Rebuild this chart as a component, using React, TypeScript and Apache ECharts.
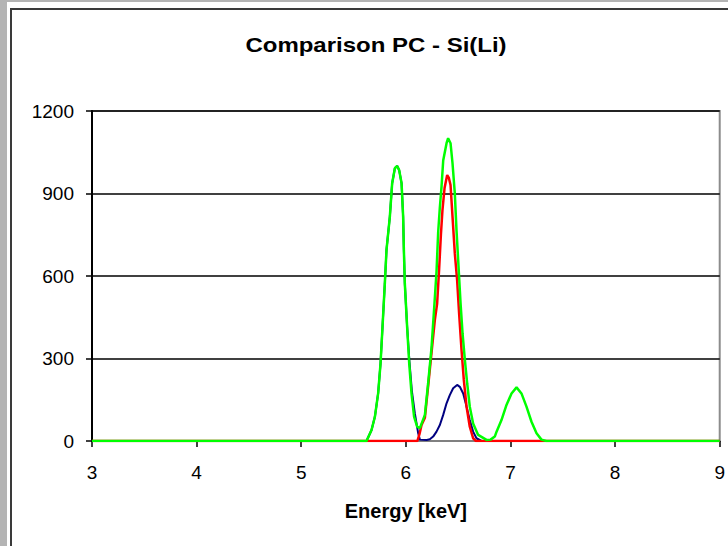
import React, { useEffect, useRef } from "react";
import * as echarts from "echarts";

const chartTitle = "Comparison PC - Si(Li)";
const xAxisName = "Energy [keV]";
const xTicks = { min: 3, max: 9, interval: 1 };
const yTicks = { min: 0, max: 1200, interval: 300 };

// Blue series (energy keV, counts)
const blueE = [3, 5.624, 5.672, 5.704, 5.735, 5.758, 5.777, 5.799, 5.815, 5.847, 5.869, 5.895, 5.917, 5.936, 5.959, 5.974, 5.981, 5.99, 6.012, 6.034, 6.058, 6.086, 6.118, 6.134, 6.2, 6.229, 6.261, 6.293, 6.325, 6.357, 6.389, 6.42, 6.452, 6.49, 6.516, 6.548, 6.58, 6.611, 6.643, 6.675, 6.723, 9];
const blueV = [0, 0, 40, 88, 173, 282, 416, 573, 695, 816, 937, 992, 1000, 985, 937, 816, 695, 573, 416, 290, 180, 100, 28, 5, 4, 6, 16, 34, 58, 95, 137, 167, 192, 204, 197, 173, 125, 76, 34, 10, 0, 0];

// Red series
const redE = [3, 6.11, 6.13, 6.15, 6.182, 6.213, 6.245, 6.277, 6.299, 6.318, 6.335, 6.35, 6.37, 6.395, 6.41, 6.427, 6.446, 6.468, 6.49, 6.509, 6.532, 6.554, 6.58, 6.611, 6.643, 6.67, 9];
const redV = [0, 0, 25, 58, 85, 200, 320, 440, 500, 625, 750, 840, 920, 967, 958, 931, 816, 682, 585, 464, 331, 222, 125, 52, 10, 0, 0];

// Green series
const greenE = [3, 5.624, 5.672, 5.704, 5.735, 5.758, 5.777, 5.799, 5.815, 5.847, 5.869, 5.895, 5.917, 5.936, 5.959, 5.974, 5.981, 5.99, 6.012, 6.032, 6.054, 6.079, 6.108, 6.134, 6.182, 6.213, 6.245, 6.27, 6.293, 6.309, 6.325, 6.341, 6.357, 6.389, 6.404, 6.427, 6.446, 6.468, 6.484, 6.5, 6.523, 6.542, 6.564, 6.586, 6.611, 6.643, 6.691, 6.771, 6.81, 6.85, 6.867, 6.914, 6.962, 7.01, 7.058, 7.105, 7.153, 7.201, 7.249, 7.296, 7.344, 9];
const greenV = [0, 0, 40, 88, 173, 282, 416, 573, 695, 816, 937, 992, 1000, 985, 937, 816, 695, 573, 416, 282, 173, 88, 52, 47, 95, 210, 338, 480, 615, 760, 850, 925, 1020, 1083, 1101, 1083, 1010, 900, 767, 658, 500, 391, 295, 210, 125, 64, 22, 4, 5, 16, 34, 76, 131, 173, 195, 173, 125, 70, 28, 5, 0, 0];

const zip = (e: number[], v: number[]) => e.map((x, i) => [x, v[i]]);

export default function App() {
  const ref = useRef<HTMLDivElement>(null);
  useEffect(() => {
    if (!ref.current) return;
    const chart = echarts.init(ref.current, null, { renderer: "svg" });
    const lbl = { fontFamily: "Liberation Sans", fontSize: 19, color: "#000" };
    chart.setOption({
      animation: false,
      backgroundColor: "#ffffff",
      grid: {
        left: 92,
        right: 8,
        top: 111,
        bottom: 105,
        show: true,
        borderColor: "#8c8c8c",
        borderWidth: 2,
        backgroundColor: "#ffffff",
      },
      xAxis: {
        type: "value",
        min: xTicks.min,
        max: xTicks.max,
        interval: xTicks.interval,
        axisLine: { show: true, onZero: false, lineStyle: { color: "#808080", width: 2 } },
        axisTick: { show: true, inside: false, length: 6, lineStyle: { color: "#000", width: 1.5 } },
        axisLabel: { ...lbl, margin: 22, formatter: (v: number) => String(v) },
        splitLine: { show: false },
        name: xAxisName,
        nameLocation: "middle",
        nameGap: 60,
        nameTextStyle: { fontFamily: "Liberation Sans", fontWeight: "bold", fontSize: 20, color: "#000" },
      },
      yAxis: {
        type: "value",
        min: yTicks.min,
        max: yTicks.max,
        interval: yTicks.interval,
        axisLine: { show: true, lineStyle: { color: "#000", width: 2 } },
        axisTick: { show: true, inside: false, length: 6, lineStyle: { color: "#000", width: 1.5 } },
        axisLabel: { ...lbl, margin: 18, formatter: (v: number) => String(v) },
        splitLine: { show: true, lineStyle: { color: "#000", width: 1.5 } },
      },
      series: [
        { type: "line", data: zip(blueE, blueV), symbol: "none", lineStyle: { color: "#000080", width: 2 }, itemStyle: { color: "#000080" } },
        { type: "line", data: zip(redE, redV), symbol: "none", lineStyle: { color: "#ff0000", width: 2.5 }, itemStyle: { color: "#ff0000" } },
        { type: "line", data: zip(greenE, greenV), symbol: "none", lineStyle: { color: "#00ff00", width: 2.5 }, itemStyle: { color: "#00ff00" } },
      ],
      graphic: [
        { type: "rect", left: 0, top: 0, shape: { x: 0, y: 0, width: 7, height: 546 }, style: { fill: "#b4b4b4" } },
        { type: "rect", left: 0, top: 0, shape: { x: 0, y: 0, width: 728, height: 2 }, style: { fill: "#b4b4b4" } },
        { type: "rect", shape: { x: 10, y: 8, width: 2, height: 538 }, style: { fill: "#3a3a3a" } },
        { type: "rect", shape: { x: 10, y: 8, width: 718, height: 2 }, style: { fill: "#3a3a3a" } },
        {
          type: "text",
          x: 376,
          y: 45,
          scaleX: 1.2,
          style: {
            text: chartTitle,
            x: 0,
            y: 0,
            textAlign: "center",
            textVerticalAlign: "middle",
            fontFamily: "Liberation Sans",
            fontWeight: "bold",
            fontSize: 20,
            fill: "#000",
          },
        },
      ],
    });
    return () => chart.dispose();
  }, []);
  return (
    <div
      ref={ref}
      style={{ position: "absolute", left: 0, top: 0, width: 728, height: 546, background: "#fff" }}
    />
  );
}
